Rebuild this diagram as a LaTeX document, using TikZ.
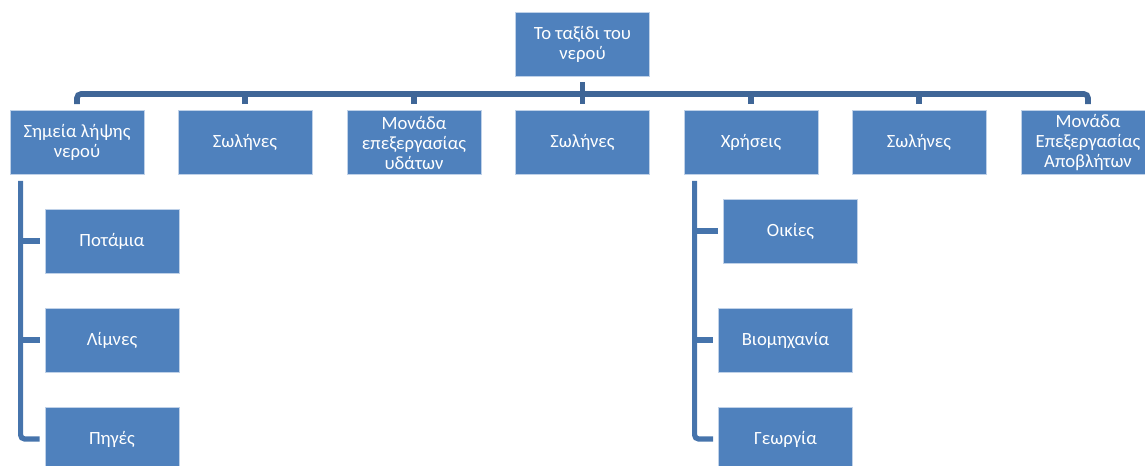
\documentclass[tikz,border=0pt]{standalone}
\usepackage{fontspec}
\setmainfont{Carlito}
\usepackage{xcolor}
\definecolor{BoxBlue}{rgb}{0.31, 0.506, 0.741}
\definecolor{BoxEdge}{rgb}{0.75, 0.82, 0.91}
\definecolor{LinkMain}{rgb}{0.247, 0.4, 0.592}
\definecolor{LinkSide}{rgb}{0.275, 0.455, 0.675}
\usepackage{tikz}
\usetikzlibrary{positioning}

\begin{document}
\begin{tikzpicture}[x=0.75pt, y=-0.75pt,
	Box/.style={rectangle, fill=BoxBlue, draw=BoxEdge, line width=0.6pt, text=white,
		minimum width=100.5pt, minimum height=48pt, inner sep=2pt, align=center,
		font=\fontsize{14pt}{15pt}\selectfont},
	Link/.style={draw=LinkMain, line width=4.2pt},
	SideLink/.style={draw=LinkSide, line width=3.9pt}]
	\useasboundingbox (0,0) rectangle (1145,466);
	\clip (0,0) rectangle (1145,466);
	\node[Box] (0) at (582.5,44) {Το ταξίδι του\\νερού};
	\node[Box] (1) at (77,142.5) {Σημεία λήψης\\νερού};
	\node[Box] (2) at (245,142.5) {Σωλήνες};
	\node[Box] (3) at (414,142.5) {Μονάδα\\επεξεργασίας\\υδάτων};
	\node[Box] (4) at (582.5,142.5) {Σωλήνες};
	\node[Box] (5) at (751,142.5) {Χρήσεις};
	\node[Box] (6) at (919,142.5) {Σωλήνες};
	\node[Box] (7) at (1088,142.5) {Μονάδα\\Επεξεργασίας\\Αποβλήτων};
	\node[Box] (8) at (112,241) {Ποτάμια};
	\node[Box] (9) at (112,340) {Λίμνες};
	\node[Box] (10) at (112,439) {Πηγές};
	\node[Box] (11) at (790.5,231) {Οικίες};
	\node[Box] (12) at (785.5,340) {Βιομηχανία};
	\node[Box] (13) at (785.5,439) {Γεωργία};
	\coordinate (bus) at (582.5,94);
	\coordinate (leftbar) at ([xshift=8.25pt]1.south west);
	\coordinate (rightbar) at ([xshift=8.25pt]5.south west);
	\draw[Link, rounded corners=3pt] ([yshift=4.5pt]1.north) |- (bus) -| ([yshift=4.5pt]7.north);
	\foreach \n in {2,3,5,6}
		\draw[Link] ([yshift=4.5pt]\n.north) -- (\n.north |- bus);
	\draw[Link] ([yshift=-4.5pt]0.south) -- ([yshift=4.5pt]4.north);
	\draw[SideLink, rounded corners=3pt] ([yshift=-4.5pt]leftbar) |- ([xshift=-3.75pt]10.west);
	\foreach \n in {8,9}
		\draw[SideLink] (leftbar |- \n.west) -- ([xshift=-3.75pt]\n.west);
	\draw[SideLink, rounded corners=3pt] ([yshift=-4.5pt]rightbar) |- ([xshift=-3.75pt]13.west);
	\foreach \n in {11,12}
		\draw[SideLink] (rightbar |- \n.west) -- ([xshift=-3.75pt]\n.west);
\end{tikzpicture}
\end{document}
